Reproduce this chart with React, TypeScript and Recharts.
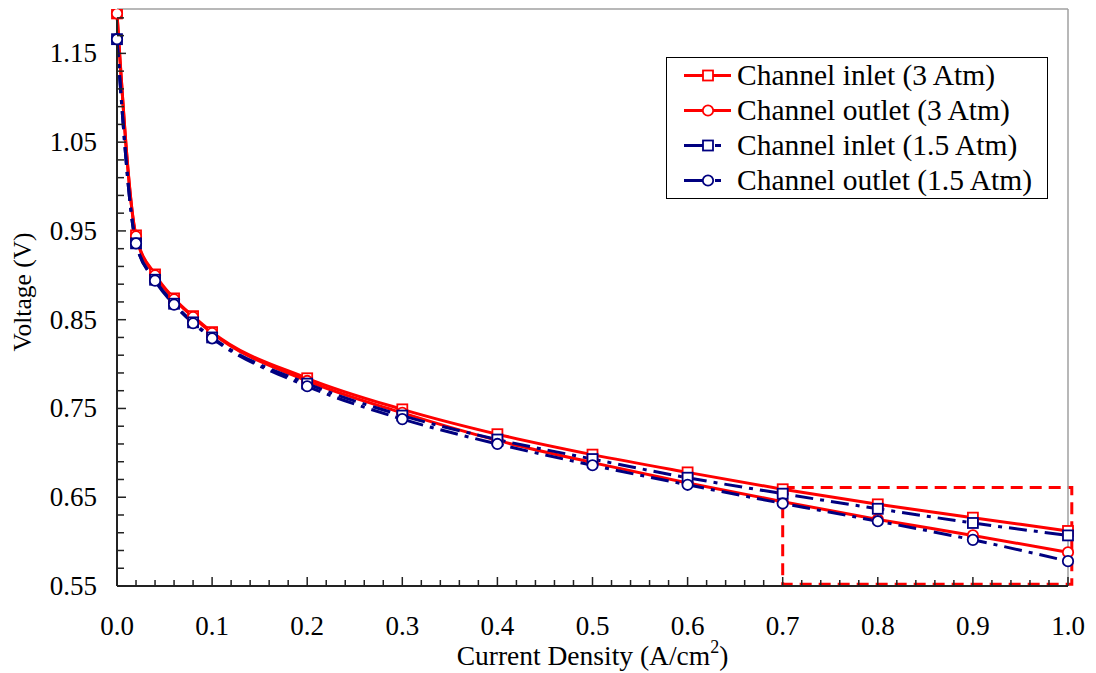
import React from 'react';
import { LineChart, Line, XAxis, YAxis, ReferenceArea, ReferenceLine, Legend } from 'recharts';

// current density (A/cm2) at each measured point
const currentDensity = [0, 0.02, 0.04, 0.06, 0.08, 0.1, 0.2, 0.3, 0.4, 0.5, 0.6, 0.7, 0.8, 0.9, 1.0];

// cell voltage (V)
const inlet3 = [1.195, 0.945, 0.901, 0.874, 0.854, 0.836, 0.784, 0.749, 0.721, 0.698, 0.678, 0.659, 0.642, 0.627, 0.612];
const outlet3 = [1.195, 0.944, 0.9, 0.873, 0.853, 0.835, 0.781, 0.745, 0.714, 0.689, 0.666, 0.645, 0.625, 0.607, 0.588];
const inlet15 = [1.166, 0.936, 0.895, 0.868, 0.847, 0.83, 0.778, 0.742, 0.715, 0.693, 0.672, 0.654, 0.637, 0.621, 0.607];
const outlet15 = [1.166, 0.936, 0.894, 0.867, 0.846, 0.829, 0.775, 0.738, 0.71, 0.686, 0.664, 0.643, 0.623, 0.602, 0.578];

const xTicks = Array.from({ length: 51 }, (_, i) => Number((i * 0.02).toFixed(2)));
const yTicks = Array.from({ length: 33 }, (_, i) => Number((0.55 + i * 0.02).toFixed(2)));

const RED = '#ff0000';
const NAVY = '#000080';
const FONT = '"Liberation Serif", "Times New Roman", serif';
const DASH_DOT = '18 7 4 7';

const series = [
  { key: 'inlet3', name: 'Channel inlet (3 Atm)', color: RED, dash: undefined, shape: 'square' },
  { key: 'outlet3', name: 'Channel outlet (3 Atm)', color: RED, dash: undefined, shape: 'circle' },
  { key: 'inlet15', name: 'Channel inlet (1.5 Atm)', color: NAVY, dash: DASH_DOT, shape: 'square' },
  { key: 'outlet15', name: 'Channel outlet (1.5 Atm)', color: NAVY, dash: DASH_DOT, shape: 'circle' },
];

const data = currentDensity.map((x, i) => ({
  x,
  inlet3: inlet3[i],
  outlet3: outlet3[i],
  inlet15: inlet15[i],
  outlet15: outlet15[i],
}));

function Marker({ cx, cy, color, shape }: { cx: number; cy: number; color: string; shape: string }) {
  if (shape === 'square') {
    return <rect x={cx - 5} y={cy - 5} width={10} height={10} fill="#fff" stroke={color} strokeWidth={1.8} />;
  }
  return <circle cx={cx} cy={cy} r={5.2} fill="#fff" stroke={color} strokeWidth={1.8} />;
}

const XTick = (props: any) => {
  const { x, y, index, payload } = props;
  const major = index % 5 === 0;
  return (
    <g>
      <line x1={x} x2={x} y1={y} y2={y - (major ? 9 : 6)} stroke="#222" strokeWidth={1.5} />
      {major && (
        <text x={x} y={y + 49} textAnchor="middle" fontFamily={FONT} fontSize={27} fill="#000">
          {payload.value.toFixed(1)}
        </text>
      )}
    </g>
  );
};

const YTick = (props: any) => {
  const { x, y, index, payload } = props;
  const major = index % 5 === 0;
  return (
    <g>
      <line x1={x} x2={x + (major ? 9 : 7)} y1={y} y2={y} stroke="#222" strokeWidth={1.5} />
      {major && (
        <text x={x - 20} y={y + 9} textAnchor="end" fontFamily={FONT} fontSize={27} fill="#000">
          {payload.value.toFixed(2)}
        </text>
      )}
    </g>
  );
};

const XTitle = (props: any) => {
  const { viewBox } = props;
  const cx = viewBox.x + viewBox.width / 2;
  return (
    <text x={cx} y={viewBox.y + 79} textAnchor="middle" fontFamily={FONT} fontSize={27.5} fill="#000">
      Current Density (A/cm
      <tspan dy={-12} fontSize={18}>2</tspan>
      <tspan dy={12}>)</tspan>
    </text>
  );
};

const YTitle = () => (
  <text x={31} y={292} transform="rotate(-90, 31, 292)" textAnchor="middle" fontFamily={FONT} fontSize={25.5} fill="#000">
    Voltage (V)
  </text>
);

const LegendBox = () => (
  <div
    style={{
      border: '1px solid #000',
      background: '#fff',
      width: 382,
      boxSizing: 'border-box',
      fontFamily: FONT,
      fontSize: 29.5,
      color: '#000',
    }}
  >
    {series.map((s) => (
      <div key={s.key} style={{ display: 'flex', alignItems: 'center', height: 35 }}>
        <svg width={70} height={35} style={{ flex: 'none' }}>
          {s.dash ? (
            <>
              <line x1={17} x2={36} y1={17.5} y2={17.5} stroke={s.color} strokeWidth={3} />
              <line x1={48} x2={54} y1={17.5} y2={17.5} stroke={s.color} strokeWidth={3} />
            </>
          ) : (
            <line x1={17} x2={64} y1={17.5} y2={17.5} stroke={s.color} strokeWidth={3} />
          )}
          <Marker cx={41} cy={17.5} color={s.color} shape={s.shape} />
        </svg>
        <span style={{ whiteSpace: 'nowrap', lineHeight: '35px' }}>{s.name}</span>
      </div>
    ))}
  </div>
);

export default function App() {
  return (
    <div style={{ position: 'absolute', left: 0, top: 0, background: '#fff' }}>
      <LineChart width={1096} height={673} data={data} margin={{ top: 9, right: 28, bottom: 0, left: 0 }}>
        <XAxis
          dataKey="x"
          type="number"
          domain={[0, 1]}
          ticks={xTicks}
          interval={0}
          height={87}
          tickSize={0}
          tickMargin={0}
          tickLine={false}
          axisLine={{ stroke: '#222', strokeWidth: 2 }}
          tick={<XTick />}
          label={<XTitle />}
        />
        <YAxis
          type="number"
          domain={[0.55, 1.2]}
          allowDataOverflow
          ticks={yTicks}
          interval={0}
          width={117}
          tickSize={0}
          tickMargin={0}
          tickLine={false}
          axisLine={{ stroke: '#222', strokeWidth: 2 }}
          tick={<YTick />}
          label={<YTitle />}
        />
        <ReferenceLine y={1.2} stroke="#a0a0a0" strokeWidth={1.5} />
        <ReferenceLine x={1} stroke="#a0a0a0" strokeWidth={1.5} />
        {series.map((s) => (
          <Line
            key={s.key}
            dataKey={s.key}
            name={s.name}
            type="monotone"
            stroke={s.color}
            strokeWidth={3}
            strokeDasharray={s.dash}
            dot={(p: any) => <Marker key={`${s.key}-${p.index}`} cx={p.cx} cy={p.cy} color={s.color} shape={s.shape} />}
            activeDot={false}
            isAnimationActive={false}
          />
        ))}
        <ReferenceArea
          x1={0.7}
          x2={1.004}
          y1={0.552}
          y2={0.661}
          fill="none"
          fillOpacity={0}
          stroke={RED}
          strokeWidth={3}
          strokeDasharray="12 7"
          ifOverflow="visible"
        />
        <Legend
          layout="horizontal"
          align="center"
          verticalAlign="middle"
          content={<LegendBox />}
          wrapperStyle={{ top: 57, left: 666, width: 382 }}
        />
      </LineChart>
    </div>
  );
}
